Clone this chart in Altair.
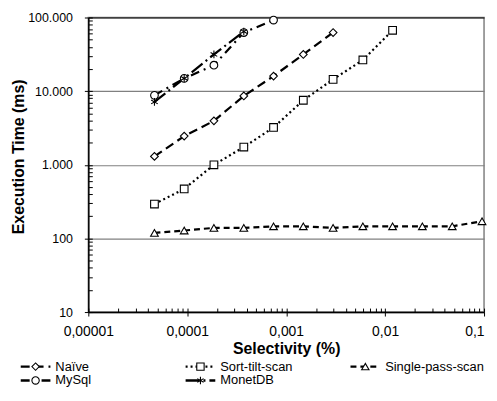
import altair as alt
import pandas as pd

FONT = "Liberation Sans"

selectivity = [0.0000466, 0.0000931, 0.000186, 0.000373, 0.000745, 0.00149,
               0.00298, 0.00596, 0.0119, 0.0238, 0.0477, 0.0954]
series_names = ["Naïve", "Sort-tilt-scan", "Single-pass-scan", "MySql", "MonetDB"]
naive = [1300, 2450, 3950, 8600, 16000, 31500, 62500]
sort_tilt = [293, 470, 1000, 1740, 3210, 7520, 14450, 26500, 67100]
single_pass = [119, 128, 139, 139, 146, 146, 139, 146, 146, 146, 146, 171]
mysql = [8770, 14900, 22500, 62500, 92300]
monetdb = [7130, 14900, 31500, 64500]

legend_col = [0, 1, 2, 0, 1]
legend_row = [0, 0, 0, 1, 1]

ASTERISK = "M0,-1L0,1M-0.866,-0.5L0.866,0.5M-0.866,0.5L0.866,-0.5"
dash_range = [[9, 5], [2, 3], [6, 4], [9, 5, 2, 5], [14, 4, 2, 4]]
shape_range = ["diamond", "square", "triangle-up", "circle", ASTERISK]

rows = []
for name, vals in zip(series_names, [naive, sort_tilt, single_pass, mysql, monetdb]):
    for x, y in zip(selectivity, vals):
        rows.append({"series": name, "sel": x, "time": y})
df = pd.DataFrame(rows)

leg = pd.DataFrame({"series": series_names, "col": legend_col, "row": legend_row})

x_major = [1e-5, 1e-4, 1e-3, 1e-2, 1e-1]
y_major = [10, 100, 1000, 10000, 100000]
x_minor = [m * d for d in x_major[:-1] for m in range(1, 10)] + [x_major[-1]]
y_minor = [m * d for d in y_major[:-1] for m in range(1, 10)] + [y_major[-1]]

xscale = alt.Scale(type="log", domain=[1e-5, 0.1], nice=False)
yscale = alt.Scale(type="log", domain=[10, 100000], nice=False)
dash_scale = alt.Scale(domain=series_names, range=dash_range)
shape_scale = alt.Scale(domain=series_names, range=shape_range)

x_axis = alt.Axis(
    values=x_major, title="Selectivity (%)", grid=False, orient="bottom",
    labelExpr="replace(format(datum.value, '.5~f'), '.', ',')",
    labelAlign={"condition": {"test": "datum.value > 0.05", "value": "right"}, "value": "center"},
    labelFont=FONT, labelFontSize=14, labelColor="black", labelPadding=9,
    titleFont=FONT, titleFontSize=16, titleFontWeight="bold", titleColor="black",
    titlePadding=2, domainColor="black", domainWidth=1.5, tickColor="black",
    tickSize=4, labelFlush=False,
)
y_axis = alt.Axis(
    values=y_major, title="Execution Time (ms)", orient="left",
    labelExpr="replace(format(datum.value, ',d'), ',', '.')",
    labelFont=FONT, labelFontSize=12.5, labelColor="black", labelPadding=12,
    titleFont=FONT, titleFontSize=16, titleFontWeight="bold", titleColor="black",
    titlePadding=1, titleY=140, domainColor="black", domainWidth=1.5, tickColor="black",
    tickSize=4, grid=True, gridWidth=1.2,
    gridColor={"condition": {"test": "datum.value > 99999", "value": "black"}, "value": "#808080"},
)

lines = alt.Chart(df).mark_line(strokeWidth=2.2, color="black", clip=True).encode(
    x=alt.X("sel:Q", scale=xscale, axis=x_axis),
    y=alt.Y("time:Q", scale=yscale, axis=y_axis),
    strokeDash=alt.StrokeDash("series:N", scale=dash_scale, legend=None),
    detail="series:N",
)

minor = alt.Chart(df).mark_point(opacity=0).encode(
    x=alt.X("sel:Q", scale=xscale, axis=alt.Axis(
        values=x_minor, labels=False, domain=False, grid=False, title=None,
        tickSize=4, tickColor="black", offset=-4, orient="bottom")),
    y=alt.Y("time:Q", scale=yscale, axis=alt.Axis(
        values=y_minor, labels=False, domain=False, grid=False, title=None,
        tickSize=4, tickColor="black", offset=-4, orient="left")),
)

points = alt.Chart(df).mark_point(
    filled=True, fill="white", stroke="black", strokeWidth=1.1, size=60, opacity=1
).encode(
    x=alt.X("sel:Q", scale=xscale, axis=None),
    y=alt.Y("time:Q", scale=yscale, axis=None),
    shape=alt.Shape("series:N", scale=shape_scale, legend=None),
)

main = alt.layer(lines, minor, points).resolve_axis(x="independent", y="independent").properties(
    width=399, height=297,
    view=alt.ViewBackground(stroke="#808080", strokeWidth=1.5, strokeOpacity=1),
)

lscale_x = alt.Scale(domain=[0.41, 2.81], nice=False, zero=False)
ly = alt.Y("row:Q", scale=alt.Scale(domain=[-0.5, 1.5], reverse=True, nice=False, zero=False), axis=None)

leg_base = alt.Chart(leg).transform_calculate(
    x0="datum.col", x1="datum.col + 0.18", xm="datum.col + 0.09"
)
leg_lines = leg_base.mark_rule(strokeWidth=2.4, color="black").encode(
    x=alt.X("x0:Q", scale=lscale_x, axis=None),
    x2="x1:Q",
    y=ly,
    strokeDash=alt.StrokeDash("series:N", scale=dash_scale, legend=None),
)
leg_pts = leg_base.mark_point(filled=True, fill="white", stroke="black", strokeWidth=1.1, size=55, opacity=1).encode(
    x=alt.X("xm:Q", scale=lscale_x, axis=None),
    y=ly,
    shape=alt.Shape("series:N", scale=shape_scale, legend=None),
)
leg_text = leg_base.mark_text(align="left", baseline="middle", dx=5, font=FONT, fontSize=13, color="black").encode(
    x=alt.X("x1:Q", scale=lscale_x, axis=None),
    y=ly,
    text="series:N",
)
legend = alt.layer(leg_lines, leg_pts, leg_text).properties(
    width=399, height=28, view=alt.ViewBackground(strokeOpacity=0)
)

chart = alt.vconcat(main, legend, spacing=2).properties(
    padding={"left": 2, "top": 1, "right": 0, "bottom": 0}
).configure_concat(spacing=2)

chart.save("out.html", embed_options={"renderer": "svg", "actions": False})
